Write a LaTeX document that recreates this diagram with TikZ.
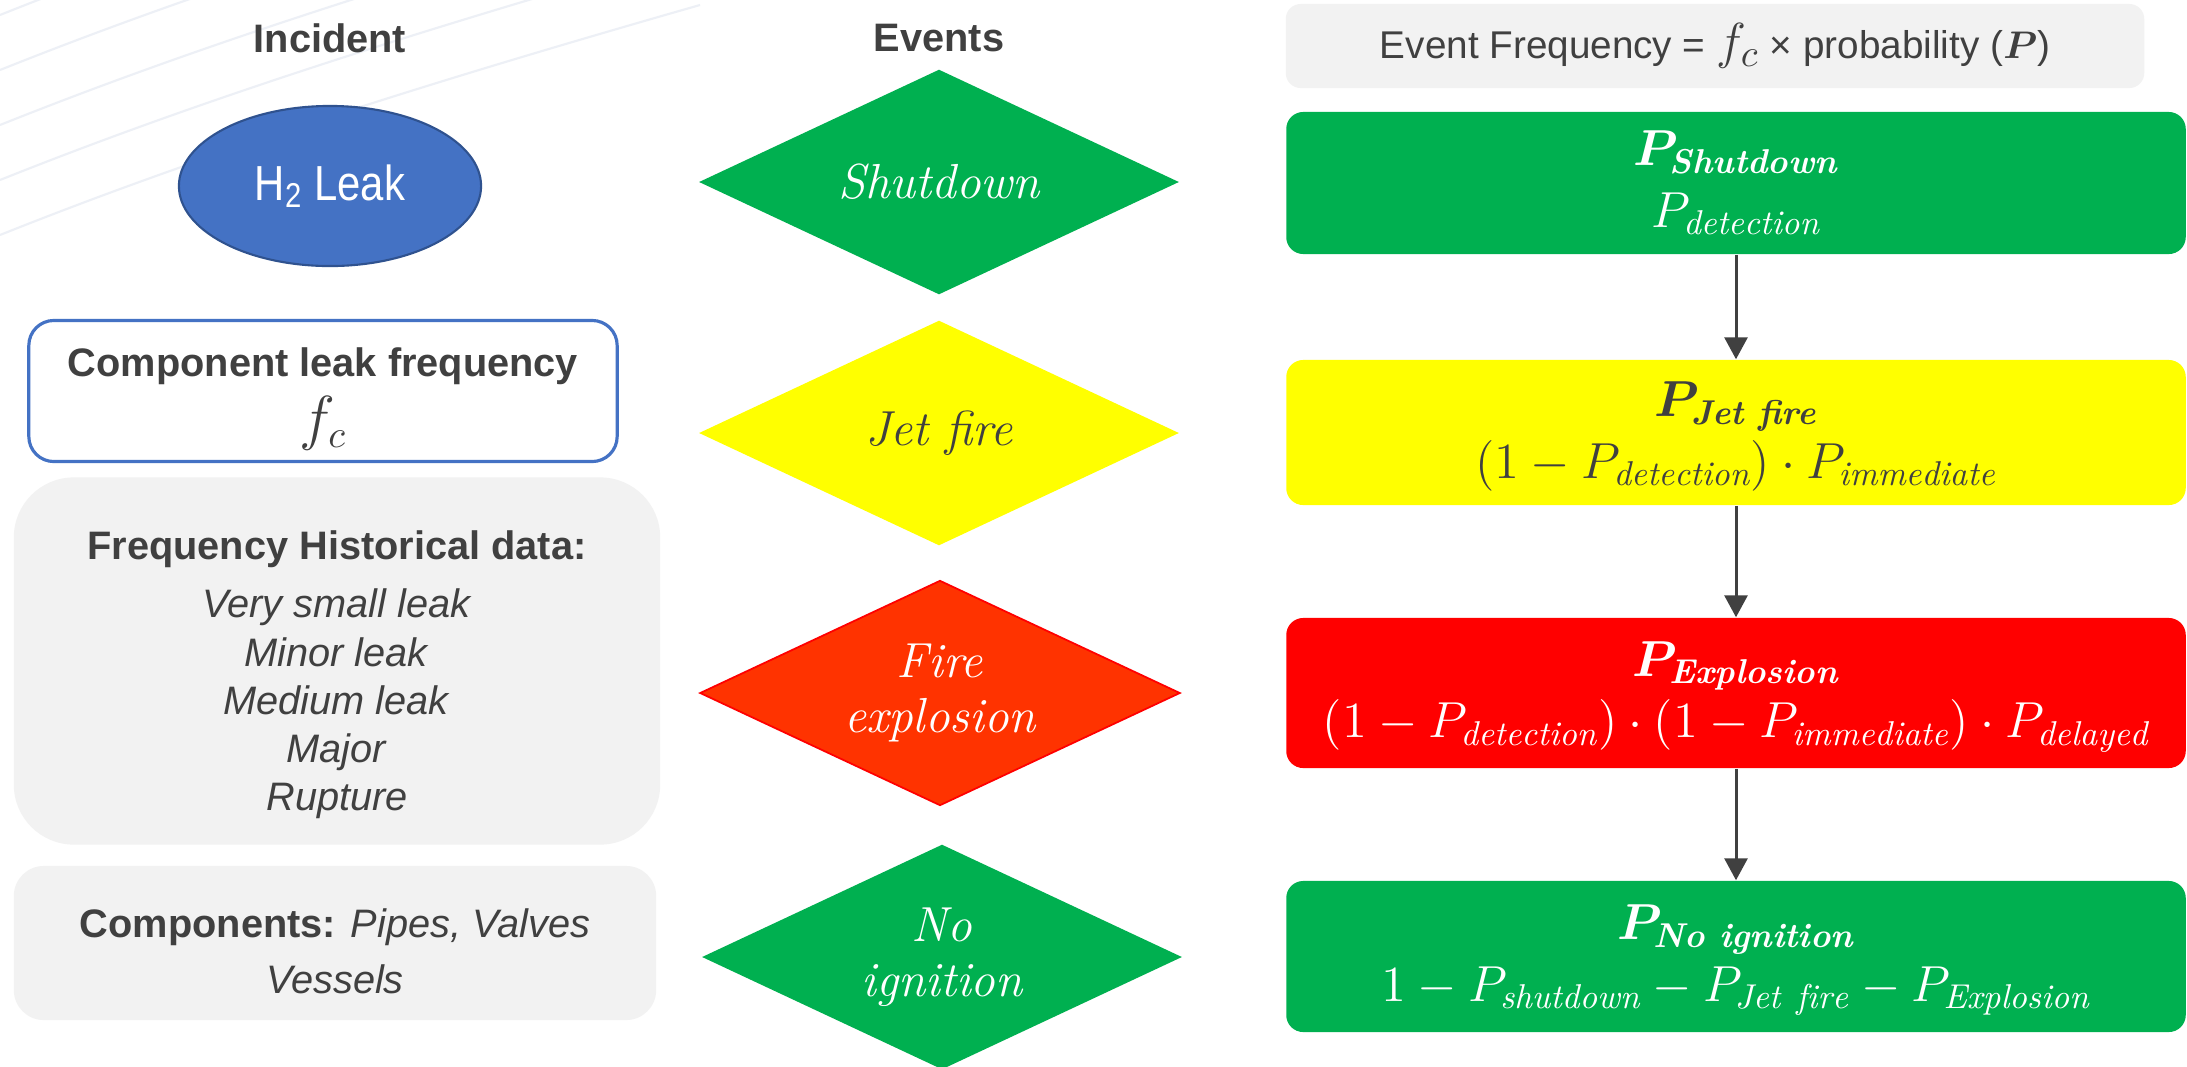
\documentclass[tikz,border=0pt]{standalone}
\usepackage{amsmath}
\usepackage{bm}
\usepackage{graphicx}
\usepackage{fontspec}
\newfontfamily\arial{Liberation Sans}
\usetikzlibrary{shapes.geometric,arrows.meta}
\definecolor{dgray}{HTML}{404040}
\definecolor{ogreen}{HTML}{00B050}
\definecolor{oyellow}{HTML}{FFFF00}
\definecolor{ored}{HTML}{FF0000}
\definecolor{oorange}{HTML}{FF3300}
\definecolor{oblue}{HTML}{4472C4}
\definecolor{oblued}{HTML}{2F528F}
\definecolor{lgray}{HTML}{F2F2F2}
\definecolor{bgline}{HTML}{EDF0F6}
\newcommand{\bsub}[1]{\text{\bfseries\itshape #1}}
\begin{document}
\begin{tikzpicture}[x=0.01cm,y=-0.01cm,
  hdr/.style={font=\arial\bfseries\fontsize{11.3}{13}\selectfont, text=dgray, inner sep=0pt},
  rbox/.style={rounded corners=0.17cm, minimum width=8.99cm, inner sep=0pt, align=center, font=\fontsize{14}{16.5}\selectfont},
  evt/.style={diamond, minimum width=4.8cm, minimum height=2.25cm, inner sep=0pt, aspect=2.14, align=center, font=\itshape\fontsize{14}{15.5}\selectfont},
  lbox/.style={fill=lgray, inner sep=0pt},
  ltext/.style={align=center, text=dgray, inner sep=0pt, font=\arial\fontsize{11.3}{13.7}\selectfont},
  flow/.style={draw=dgray, line width=0.85pt, -{Triangle[width=0.23cm,length=0.22cm]}}
]
\useasboundingbox (0,0) rectangle (2187,1066);
\clip (0,0) rectangle (2187,1066);
\fill[white] (0,0) rectangle (2187,1066);

% faint background lines
\foreach \yy in {15,70,125,180,235}{
  \draw[bgline, line width=0.6pt] (0,\yy) .. controls (200,\yy-80) and (420,\yy-150) .. (700,\yy-230);
}

% column headers
\node[hdr] (inc) at (330,38) {Incident};
\node[hdr] (evh) at (939,38) {Events};
\node[fill=lgray, rounded corners=0.15cm, minimum width=8.58cm, minimum height=0.84cm, inner sep=0pt, text=dgray, font=\arial\fontsize{11}{13}\selectfont] (eqn) at (1715,46) {Event Frequency = {\fontsize{15}{15}\selectfont$f_c$} × probability ($\bm{P}$)};

% incident column
\node[ellipse, fill=oblue, draw=oblued, line width=0.6pt, minimum width=3.02cm, minimum height=1.6cm, inner sep=0pt, text=white, font=\arial\fontsize{14}{16}\selectfont] (leak) at (330,186) {\scalebox{0.85}[1]{H\textsubscript{2} Leak}};

\node[draw=oblue, line width=0.9pt, fill=white, rounded corners=0.25cm, minimum width=5.88cm, minimum height=1.41cm, inner sep=0pt] (clf) at (323,391) {};
\node[align=center, text=dgray, inner sep=0pt, font=\arial\bfseries\fontsize{11.3}{17.5}\selectfont] (clftxt) at (323,399) {Component leak frequency\\ {\fontsize{16}{16}\selectfont$f_c$}};

\node[lbox, rounded corners=0.6cm, minimum width=6.46cm, minimum height=3.67cm] (hist) at (337,661) {};
\node[ltext] (histtxt) at (337,675) {\textbf{Frequency Historical data:}\\[2.8pt] \textit{Very small leak}\\ \textit{Minor leak}\\ \textit{Medium leak}\\ \textit{Major}\\ \textit{Rupture}};

\node[lbox, rounded corners=0.3cm, minimum width=6.42cm, minimum height=1.54cm] (comps) at (335,943) {};
\node[ltext, font=\arial\fontsize{11.3}{16}\selectfont] (compstxt) at (335,951) {\textbf{Components:} \textit{Pipes, Valves}\\ \textit{Vessels}};

% events
\node[evt, fill=ogreen, text=white] (d1) at (939,182) {Shutdown};
\node[evt, fill=oyellow, text=dgray] (d2) at (939,433) {Jet fire};
\node[evt, fill=oorange, draw=ored, line width=0.5pt, text=white] (d3) at (940,693) {Fire\\explosion};
\node[evt, fill=ogreen, text=white] (d4) at (942,957) {No\\ignition};

% probability boxes
\node[rbox, fill=ogreen, text=white, minimum height=1.42cm] (p1) at (1736,183) {$\bm{P}_{\bsub{Shutdown}}$\\[1pt] $P_{\mathit{detection}}$};
\node[rbox, fill=oyellow, text=dgray, minimum height=1.45cm] (p2) at (1736,432.5) {\rule{0pt}{12pt}$\bm{P}_{\bsub{Jet fire}}$\\[1pt] $(1-P_{\mathit{detection}})\cdot P_{\mathit{immediate}}$};
\node[rbox, fill=ored, text=white, minimum height=1.5cm] (p3) at (1736,693) {\rule{0pt}{12pt}$\bm{P}_{\bsub{Explosion}}$\\[1pt] $(1-P_{\mathit{detection}})\cdot(1-P_{\mathit{immediate}})\cdot P_{\mathit{delayed}}$};
\node[rbox, fill=ogreen, text=white, minimum height=1.51cm] (p4) at (1736,956.5) {\rule{0pt}{12pt}$\bm{P}_{\bsub{No ignition}}$\\[1pt] $1-P_{\mathit{shutdown}}-P_{\mathit{Jet\ fire}}-P_{\mathit{Explosion}}$};

\draw[flow] (p1.south) -- (p2.north);
\draw[flow] (p2.south) -- (p3.north);
\draw[flow] (p3.south) -- (p4.north);
\end{tikzpicture}
\end{document}
